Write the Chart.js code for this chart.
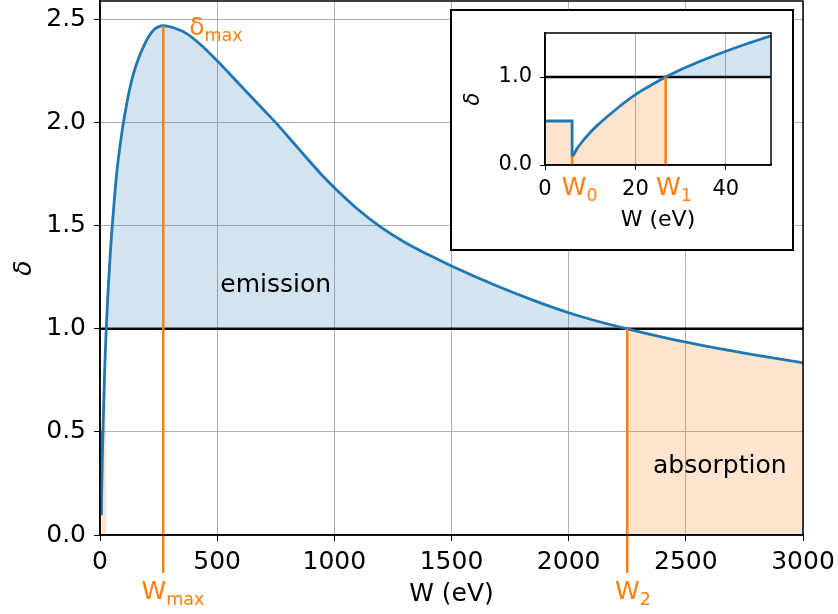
<!DOCTYPE html>
<html lang="en">
<head>
<meta charset="UTF-8">
<title>Secondary electron yield</title>
<script src="https://cdn.jsdelivr.net/npm/chart.js@4/dist/chart.umd.min.js"></script>
<style>
  body { margin: 0; background: #fff; }
  #wrap { position: relative; width: 838px; height: 614px; }
  #wrap > canvas { display: block; }
  #inset {
    position: absolute; left: 450px; top: 9px;
    width: 344px; height: 242px;
    border: 2px solid #000; box-sizing: border-box; background: #fff;
  }
  #inset canvas { display: block; }
</style>
</head>
<body>
<div id="wrap">
  <canvas id="main" width="838" height="614"></canvas>
  <div id="inset"><canvas id="zoom" width="340" height="238"></canvas></div>
</div>
<script>
// primary energy W (eV) and yield delta along the curve
const W_EV = [0, 6, 6, 7, 8, 10, 12, 14, 16, 18, 20, 23, 26.7, 30, 33, 36, 40, 45, 50, 60,
  70, 80, 90, 100, 125, 150, 190, 230, 270, 320, 370, 430, 500, 600, 700, 750, 850, 960, 1000,
  1100, 1200, 1300, 1400, 1500, 1700, 1850, 2000, 2100, 2250, 2500, 2750, 3000];
const DELTA = [0.5, 0.5, 0.1, 0.18, 0.25, 0.37, 0.47, 0.56, 0.645, 0.725, 0.80, 0.893, 1.0, 1.083, 1.15, 1.213, 1.292, 1.383, 1.468, 1.61,
  1.74, 1.84, 1.925, 2.0, 2.155, 2.265, 2.38, 2.45, 2.47, 2.458, 2.432, 2.378, 2.30, 2.18, 2.06, 2.0, 1.87, 1.73, 1.685,
  1.58, 1.492, 1.42, 1.36, 1.305, 1.205, 1.138, 1.078, 1.044, 1.0, 0.935, 0.882, 0.835];

// characteristic points
const W0 = 6, DELTA_W0 = 0.1;
const W1 = 26.7, W2 = 2250;
const W_MAX = 270, DELTA_MAX = 2.47;
const UNITY = 1;

// axes
const X_TICKS = [0, 500, 1000, 1500, 2000, 2500, 3000];
const Y_TICKS = [0, 0.5, 1.0, 1.5, 2.0, 2.5];
const INSET_X_TICKS = [0, 20, 40];
const INSET_Y_TICKS = [0, 1];

const BLUE = '#1f77b4', ORANGE = '#ff7f0e';
const BLUE_FILL = 'rgba(31,119,180,0.2)', ORANGE_FILL = 'rgba(255,127,14,0.2)';
const FONT = "'DejaVu Sans', sans-serif";

Chart.defaults.font.family = FONT;
Chart.defaults.color = '#000';

const curve = W_EV.map((w, i) => ({ x: w, y: DELTA[i] }));
const lowPart = curve.filter(p => p.x <= W1);   // yield below 1 at low energy
const highPart = curve.filter(p => p.x >= W2);  // yield below 1 at high energy

function datasets(xMax) {
  return [
    { data: curve, borderColor: BLUE, borderWidth: 2.8, pointRadius: 0,
      cubicInterpolationMode: 'monotone',
      fill: { target: { value: UNITY }, above: BLUE_FILL, below: 'rgba(0,0,0,0)' } },
    { data: [{ x: 0, y: UNITY }, { x: xMax, y: UNITY }], borderColor: '#000',
      borderWidth: 2.6, pointRadius: 0, fill: false },
    { data: lowPart, borderWidth: 0, pointRadius: 0, cubicInterpolationMode: 'monotone',
      fill: 'origin', backgroundColor: ORANGE_FILL },
    { data: highPart, borderWidth: 0, pointRadius: 0, cubicInterpolationMode: 'monotone',
      fill: 'origin', backgroundColor: ORANGE_FILL }
  ];
}

// text like W_max: main glyphs plus a lowered, smaller subscript
function subText(ctx, x, y, main, sub, size, align) {
  ctx.font = size + 'px ' + FONT;
  const wm = ctx.measureText(main).width;
  const subSize = size * 0.7;
  ctx.font = subSize + 'px ' + FONT;
  const ws = sub ? ctx.measureText(sub).width : 0;
  const left = align === 'center' ? x - (wm + ws) / 2 : x;
  ctx.textAlign = 'left';
  ctx.textBaseline = 'alphabetic';
  ctx.font = size + 'px ' + FONT;
  ctx.fillText(main, left, y);
  if (sub) {
    ctx.font = subSize + 'px ' + FONT;
    ctx.fillText(sub, left + wm, y + size * 0.25);
  }
}

const marks = {
  id: 'marks',
  afterDatasetsDraw(chart, args, opts) {
    const { ctx, chartArea: a, scales: { x, y } } = chart;
    ctx.save();
    ctx.strokeStyle = ORANGE;
    ctx.lineWidth = 2.5;
    opts.guides.forEach(g => {
      const px = x.getPixelForValue(g.w);
      ctx.beginPath();
      ctx.moveTo(px, y.getPixelForValue(g.d));
      ctx.lineTo(px, a.bottom + g.below);
      ctx.stroke();
    });
    // box around the plot area
    ctx.strokeStyle = '#000';
    ctx.lineWidth = 1.5;
    ctx.strokeRect(a.left, a.top, a.right - a.left, a.bottom - a.top);
    opts.labels.forEach(l => {
      ctx.fillStyle = l.color;
      const px = x.getPixelForValue(l.w) + l.dx;
      const py = l.d === null ? a.bottom + l.dy : y.getPixelForValue(l.d) + l.dy;
      subText(ctx, px, py, l.main, l.sub, l.size, l.align);
    });
    ctx.restore();
  }
};

function axis(min, max, ticks, fmt, size, pad, tickLen, extra) {
  return Object.assign({
    type: 'linear', min: min, max: max,
    afterBuildTicks: s => { s.ticks = ticks.map(v => ({ value: v })); },
    grid: { color: '#b0b0b0', lineWidth: 1, tickColor: '#000', tickLength: tickLen },
    border: { color: '#000', width: 1.5 },
    ticks: { callback: fmt, font: { size: size }, padding: pad, color: '#000', autoSkip: false, maxRotation: 0 }
  }, extra);
}

// fixed box sizes so the plot area lands where it should
function fixHeight(h) {
  return s => { s.height = h; s.paddingLeft = 0; s.paddingRight = 0; };
}
function fixWidth(w) {
  return s => { s.width = w; s.paddingTop = 0; s.paddingBottom = 0; };
}

new Chart(document.getElementById('main'), {
  type: 'line',
  data: { datasets: datasets(3000) },
  plugins: [marks],
  options: {
    responsive: false, animation: false,
    layout: { padding: { left: 0, right: 35, top: 1, bottom: 0 } },
    plugins: {
      legend: { display: false }, tooltip: { enabled: false },
      marks: {
        guides: [
          { w: W_MAX, d: DELTA_MAX, below: 38 },
          { w: W2, d: UNITY, below: 38 }
        ],
        labels: [
          { w: W_MAX, d: DELTA_MAX, dx: 26, dy: 9, main: 'δ', sub: 'max', size: 25, color: ORANGE, align: 'left' },
          { w: W_MAX, d: null, dx: 9.7, dy: 64, main: 'W', sub: 'max', size: 25, color: ORANGE, align: 'center' },
          { w: W2, d: null, dx: 5.6, dy: 64, main: 'W', sub: '2', size: 25, color: ORANGE, align: 'center' },
          { w: 750, d: 1.18, dx: 0, dy: 0, main: 'emission', sub: '', size: 25, color: '#000', align: 'center' },
          { w: 2645, d: 0.30, dx: 0, dy: 0, main: 'absorption', sub: '', size: 25, color: '#000', align: 'center' }
        ]
      }
    },
    scales: {
      x: axis(0, 3000, X_TICKS, v => String(v), 25, 6, 6, {
        afterFit: fixHeight(79),
        title: { display: true, text: 'W (eV)', font: { size: 25 }, padding: { top: 0, bottom: 5 } }
      }),
      y: axis(0, 2.59, Y_TICKS, v => v.toFixed(1), 25, 8, 6, {
        afterFit: fixWidth(100),
        title: { display: true, text: 'δ', font: { size: 25, style: 'italic' }, padding: { top: 9, bottom: 0 } }
      })
    }
  }
});

// low-energy detail
const insetX = axis(0, 50, INSET_X_TICKS, v => String(v), 21, 7, 5, {
  afterFit: fixHeight(84),
  title: { display: true, text: 'W (eV)', font: { size: 22 }, padding: { top: 0, bottom: 16 } }
});
const insetY = axis(0, 1.5, INSET_Y_TICKS, v => v.toFixed(1), 21, 8, 5, {
  afterFit: fixWidth(93),
  title: { display: true, text: 'δ', font: { size: 21, style: 'italic' }, padding: { top: 9, bottom: 0 } }
});
insetY.grid.drawOnChartArea = false;

new Chart(document.getElementById('zoom'), {
  type: 'line',
  data: { datasets: datasets(50) },
  plugins: [marks],
  options: {
    responsive: false, animation: false,
    layout: { padding: { left: 0, right: 21, top: 22, bottom: 0 } },
    plugins: {
      legend: { display: false }, tooltip: { enabled: false },
      marks: {
        guides: [
          { w: W0, d: DELTA_W0, below: 0 },
          { w: W1, d: UNITY, below: 0 }
        ],
        labels: [
          { w: W0, d: null, dx: 7.5, dy: 30, main: 'W', sub: '0', size: 25, color: ORANGE, align: 'center' },
          { w: W1, d: null, dx: 8.2, dy: 30, main: 'W', sub: '1', size: 25, color: ORANGE, align: 'center' }
        ]
      }
    },
    scales: { x: insetX, y: insetY }
  }
});
</script>
</body>
</html>
